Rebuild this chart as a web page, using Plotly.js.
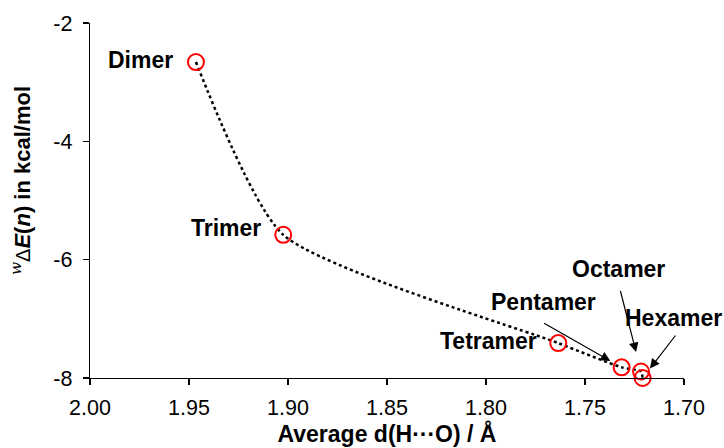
<!DOCTYPE html>
<html>
<head>
<meta charset="utf-8">
<script src="https://cdn.plot.ly/plotly-3.0.1.min.js"></script>
<style>
  html, body { margin: 0; padding: 0; background: #fff; }
  #chart { width: 724px; height: 448px; }
</style>
</head>
<body>
<div id="chart"></div>
<script>
// Water clusters: average H···O distance vs. interaction energy per molecule
const clusters = ["Dimer", "Trimer", "Tetramer", "Pentamer", "Octamer", "Hexamer"];
const avgDistance = [1.9465, 1.9024, 1.7635, 1.7315, 1.7217, 1.7209];
const energy = [-2.66, -5.58, -7.41, -7.82, -7.89, -8.00];

const xTicks = [2.00, 1.95, 1.90, 1.85, 1.80, 1.75, 1.70];
const xTickText = ["2.00", "1.95", "1.90", "1.85", "1.80", "1.75", "1.70"];
const yTicks = [-2, -4, -6, -8];
const yTickText = ["-2", "-4", "-6", "-8"];

const FONT = "Arial, 'Liberation Sans', sans-serif";

const trace = {
  x: avgDistance,
  y: energy,
  type: "scatter",
  mode: "lines+markers",
  cliponaxis: false,
  line: { color: "#000", width: 2.5, dash: "dot", shape: "spline", smoothing: 0.6 },
  marker: { symbol: "circle-open", size: 16, color: "#ff0000", line: { width: 2, color: "#ff0000" } },
  hoverinfo: "x+y+text",
  text: clusters
};

// label placement per cluster (pixel offsets from each point)
const labelStyle = {
  Dimer:    { xanchor: "right",  xshift: -21, yshift: 2 },
  Trimer:   { xanchor: "right",  xshift: -20, yshift: 7 },
  Tetramer: { xanchor: "right",  xshift: -19, yshift: 2 },
  Pentamer: { xanchor: "center", xshift: -78, yshift: 65 },
  Octamer:  { xanchor: "center", xshift: -23, yshift: 102 },
  Hexamer:  { xanchor: "center", xshift: 31,  yshift: 60 }
};
// callout arrows for the crowded points
const arrows = {
  Pentamer: { ax: -79, ay: -45, standoff: 13 },
  Octamer:  { ax: -21, ay: -82, standoff: 20 },
  Hexamer:  { ax: 34,  ay: -44, standoff: 12 }
};

const annotations = [];
clusters.forEach((name, i) => {
  const s = labelStyle[name];
  annotations.push({
    x: avgDistance[i], y: energy[i], xref: "x", yref: "y",
    text: "<b>" + name + "</b>", showarrow: false,
    xanchor: s.xanchor, yanchor: "middle", xshift: s.xshift, yshift: s.yshift,
    font: { family: FONT, size: 23, color: "#000" }
  });
  if (arrows[name]) {
    const a = arrows[name];
    annotations.push({
      x: avgDistance[i], y: energy[i], xref: "x", yref: "y",
      text: "", showarrow: true, ax: a.ax, ay: a.ay, standoff: a.standoff,
      arrowhead: 2, arrowsize: 1.6, arrowwidth: 1.2, arrowcolor: "#000"
    });
  }
});

// y-axis title
annotations.push({
  xref: "paper", yref: "paper", x: -0.117, y: 0.556,
  xanchor: "center", yanchor: "middle", textangle: -90, showarrow: false,
  text: "<sup><span style=\"font-family:'DejaVu Serif',serif;font-style:italic;font-weight:normal\">w</span></sup><span style=\"font-weight:normal;font-size:20px\">Δ</span><b><i>E</i>(<i>n</i>) in kcal/mol</b>",
  font: { family: FONT, size: 22, color: "#000" }
});

const layout = {
  width: 724, height: 448,
  margin: { l: 90, r: 40, t: 23, b: 70 },
  paper_bgcolor: "#fff", plot_bgcolor: "#fff",
  showlegend: false,
  font: { family: FONT, size: 21.5, color: "#000" },
  xaxis: {
    range: [2.00, 1.70], autorange: false,
    tickvals: xTicks, ticktext: xTickText,
    ticks: "outside", ticklen: 6, tickwidth: 1.3, tickcolor: "#000",
    showline: true, linecolor: "#000", linewidth: 1.3,
    showgrid: false, zeroline: false, mirror: false,
    ticklabelstandoff: 4,
    tickfont: { family: FONT, size: 21.5, color: "#000" },
    title: { text: "<b>Average d(H···O) / Å</b>", font: { family: FONT, size: 23, color: "#000" }, standoff: 3 }
  },
  yaxis: {
    range: [-8, -2], autorange: false,
    tickvals: yTicks, ticktext: yTickText,
    ticks: "outside", ticklen: 6, tickwidth: 1.3, tickcolor: "#000",
    showline: true, linecolor: "#000", linewidth: 1.3,
    showgrid: false, zeroline: false,
    ticklabelstandoff: 6,
    tickfont: { family: FONT, size: 21.5, color: "#000" }
  },
  annotations: annotations
};

Plotly.newPlot("chart", [trace], layout, { displayModeBar: false, staticPlot: true });
</script>
</body>
</html>
